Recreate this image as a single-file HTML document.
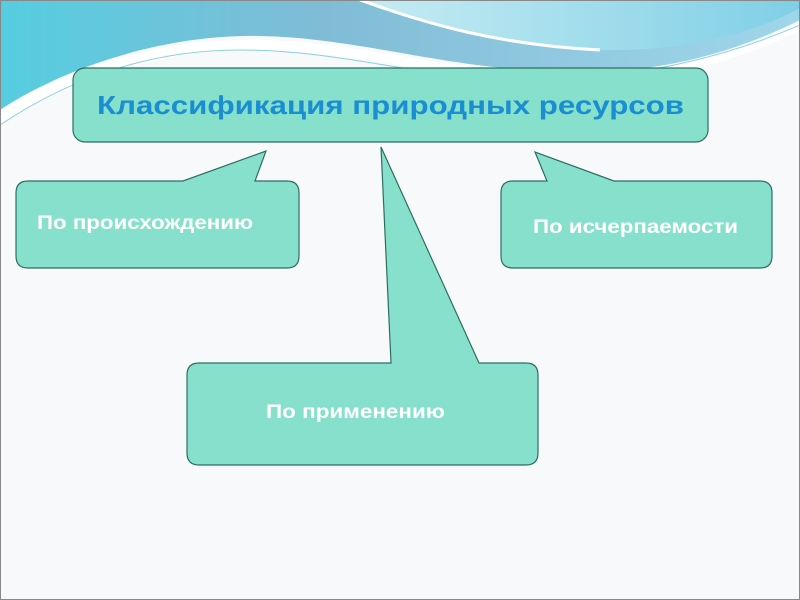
<!DOCTYPE html>
<html><head><meta charset="utf-8"><style>
html,body{margin:0;padding:0;background:#f8f9fa;}
svg{display:block}
text{font-family:"Liberation Sans",Arial,sans-serif;font-weight:bold}
</style></head><body>
<svg width="800" height="600" viewBox="0 0 800 600">
<defs>
<linearGradient id="g1" x1="0" y1="0" x2="1" y2="0">
<stop offset="0" stop-color="#55cde0"/><stop offset="0.4" stop-color="#80bcd6"/><stop offset="1" stop-color="#a0d6ea"/>
</linearGradient>
<linearGradient id="g2" x1="0" y1="0" x2="1" y2="0">
<stop offset="0" stop-color="#c6ecf3"/><stop offset="1" stop-color="#80cfe6"/>
</linearGradient>
</defs>
<rect x="0" y="0" width="800" height="600" fill="#f8f9fa"/>
<path d="M0 0 H800 V20 C720 60 640 75 560 72 C440 68 360 38 260 36 C160 34 60 70 0 110 Z" fill="url(#g1)"/>
<path d="M0 110 C60 70 160 38 260 40 C360 42 440 70 560 75 C650 78 740 55 800 22 V30 C740 62 650 85 560 82 C440 78 360 52 260 50 C160 48 60 85 0 125 Z" fill="#fff"/>
<path d="M360 0 C430 25 500 45 600 50 C690 52 760 30 800 8 V0 Z" fill="url(#g2)"/>
<path d="M360 0 C430 25 500 45 600 50" fill="none" stroke="#fff" stroke-width="3"/>
<path d="M0 125 C60 85 140 50 240 50 C340 50 420 78 520 80 C620 82 720 60 800 25" fill="none" stroke="#6fc6da" stroke-width="1" opacity="0.8"/>
<rect x="0.5" y="0.5" width="799" height="599" fill="none" stroke="#888" stroke-width="1"/>
<g fill="#86e0cc" stroke="#2e6e62" stroke-width="1.2">
<rect x="73" y="68" width="635" height="74" rx="12"/>
<path d="M28 181 H183 L266 151 L255 181 H287 Q299 181 299 193 V256 Q299 268 287 268 H28 Q16 268 16 256 V193 Q16 181 28 181 Z"/>
<path d="M513 181 H547 L535 152 L614 181 H760 Q772 181 772 193 V256 Q772 268 760 268 H513 Q501 268 501 256 V193 Q501 181 513 181 Z"/>
<path d="M199 363 H391 L381 147 L479 363 H526 Q538 363 538 375 V453 Q538 465 526 465 H199 Q187 465 187 453 V375 Q187 363 199 363 Z"/>
</g>
<text x="97" y="114" font-size="26" fill="#1a8ed0" textLength="587" lengthAdjust="spacingAndGlyphs">Классификация природных ресурсов</text>
<text x="37" y="229" font-size="19" fill="#fff" textLength="216" lengthAdjust="spacingAndGlyphs">По происхождению</text>
<text x="533" y="233" font-size="19" fill="#fff" textLength="205" lengthAdjust="spacingAndGlyphs">По исчерпаемости</text>
<text x="266" y="418" font-size="19" fill="#fff" textLength="179" lengthAdjust="spacingAndGlyphs">По применению</text>
</svg>
</body></html>
